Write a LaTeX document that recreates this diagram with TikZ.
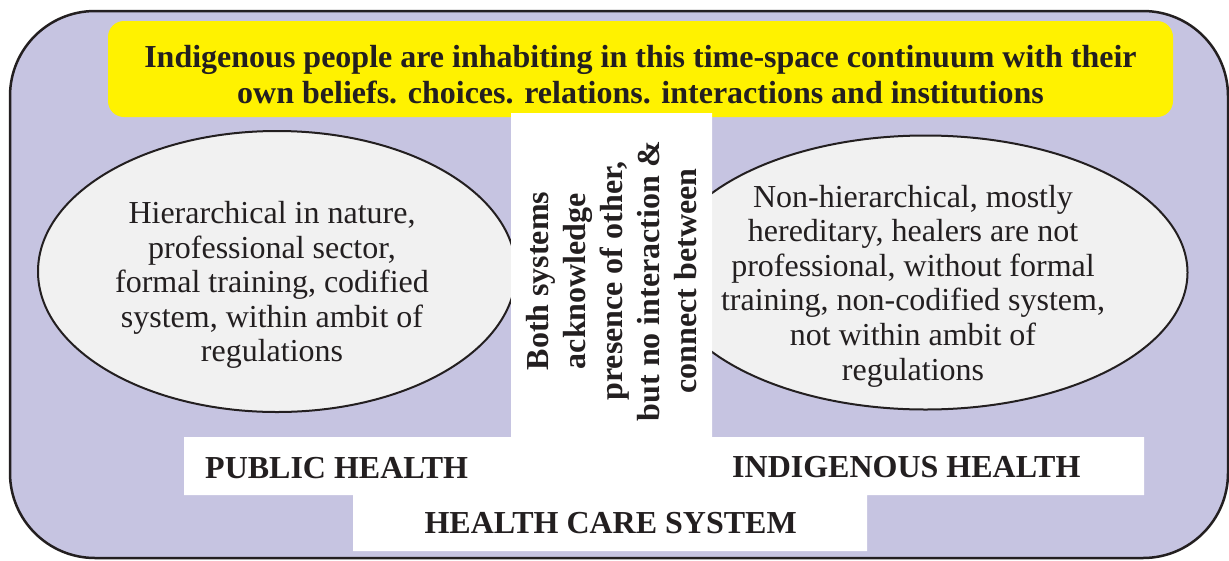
\documentclass[tikz,border=0pt]{standalone}
\usepackage{fontspec}
\setmainfont{Liberation Serif}
\usetikzlibrary{shapes.geometric}
\definecolor{panel}{HTML}{C6C4E1}
\definecolor{banner}{HTML}{FFF200}
\definecolor{bubblefill}{HTML}{F1F1F1}
\definecolor{ink}{HTML}{231F20}
\begin{document}
\begin{tikzpicture}[x=1pt,y=-1pt,
  bubble/.style={ellipse, draw=ink, line width=2pt, fill=bubblefill, inner sep=0pt},
  bodytext/.style={text=ink, align=center, inner sep=0pt, font=\fontsize{32}{34.6}\selectfont},
  boldtext/.style={text=ink, align=center, inner sep=0pt, font=\fontsize{32}{36}\selectfont\bfseries},
  tagtext/.style={text=ink, inner sep=0pt, font=\fontsize{32}{36}\selectfont\bfseries}]
\useasboundingbox (0,0) rectangle (1229,560);

% outer lavender panel
\draw[draw=ink, fill=panel, line width=2.5pt, rounded corners=85pt] (10,11) rectangle (1228,558);

% yellow banner
\fill[banner, rounded corners=16pt] (108,21) rectangle (1173,117);
\node[boldtext] (banner) at (640.5,75)
  {Indigenous people are inhabiting in this time-space continuum with their\\
   own beliefs. choices. relations. interactions and institutions};

% the two systems
\node[bubble, minimum width=478pt, minimum height=281pt] (pub) at (277,271.5) {};
\node[bubble, minimum width=524pt, minimum height=274pt] (ind) at (925.5,272.5) {};

% white cross-shaped strip
\fill[white] (511,113) -- (712,113) -- (712,437) -- (1144,437) -- (1144,495)
  -- (867,495) -- (867,551) -- (353,551) -- (353,495) -- (184,495)
  -- (184,437) -- (511,437) -- cycle;

\node[bodytext] (pubtext) at (272,285)
  {Hierarchical in nature,\\ professional sector,\\ formal training, codified\\
   system, within ambit of\\ regulations};
\node[bodytext] (indtext) at (913,286)
  {Non-hierarchical, mostly\\ hereditary, healers are not\\ professional, without formal\\
   training, non-codified system,\\ not within ambit of\\ regulations};

\node[boldtext, rotate=90, font=\fontsize{32}{37}\selectfont\bfseries] (both) at (612,281)
  {Both systems\\ acknowledge\\ presence of other,\\ but no interaction \&\\ connect between};

\node[tagtext, anchor=base west] (pubtag) at (205,478) {PUBLIC HEALTH};
\node[tagtext, anchor=base west] (indtag) at (732,477) {INDIGENOUS HEALTH};
\node[tagtext, anchor=base east] (hcs) at (797,533) {HEALTH CARE SYSTEM};
\end{tikzpicture}
\end{document}
